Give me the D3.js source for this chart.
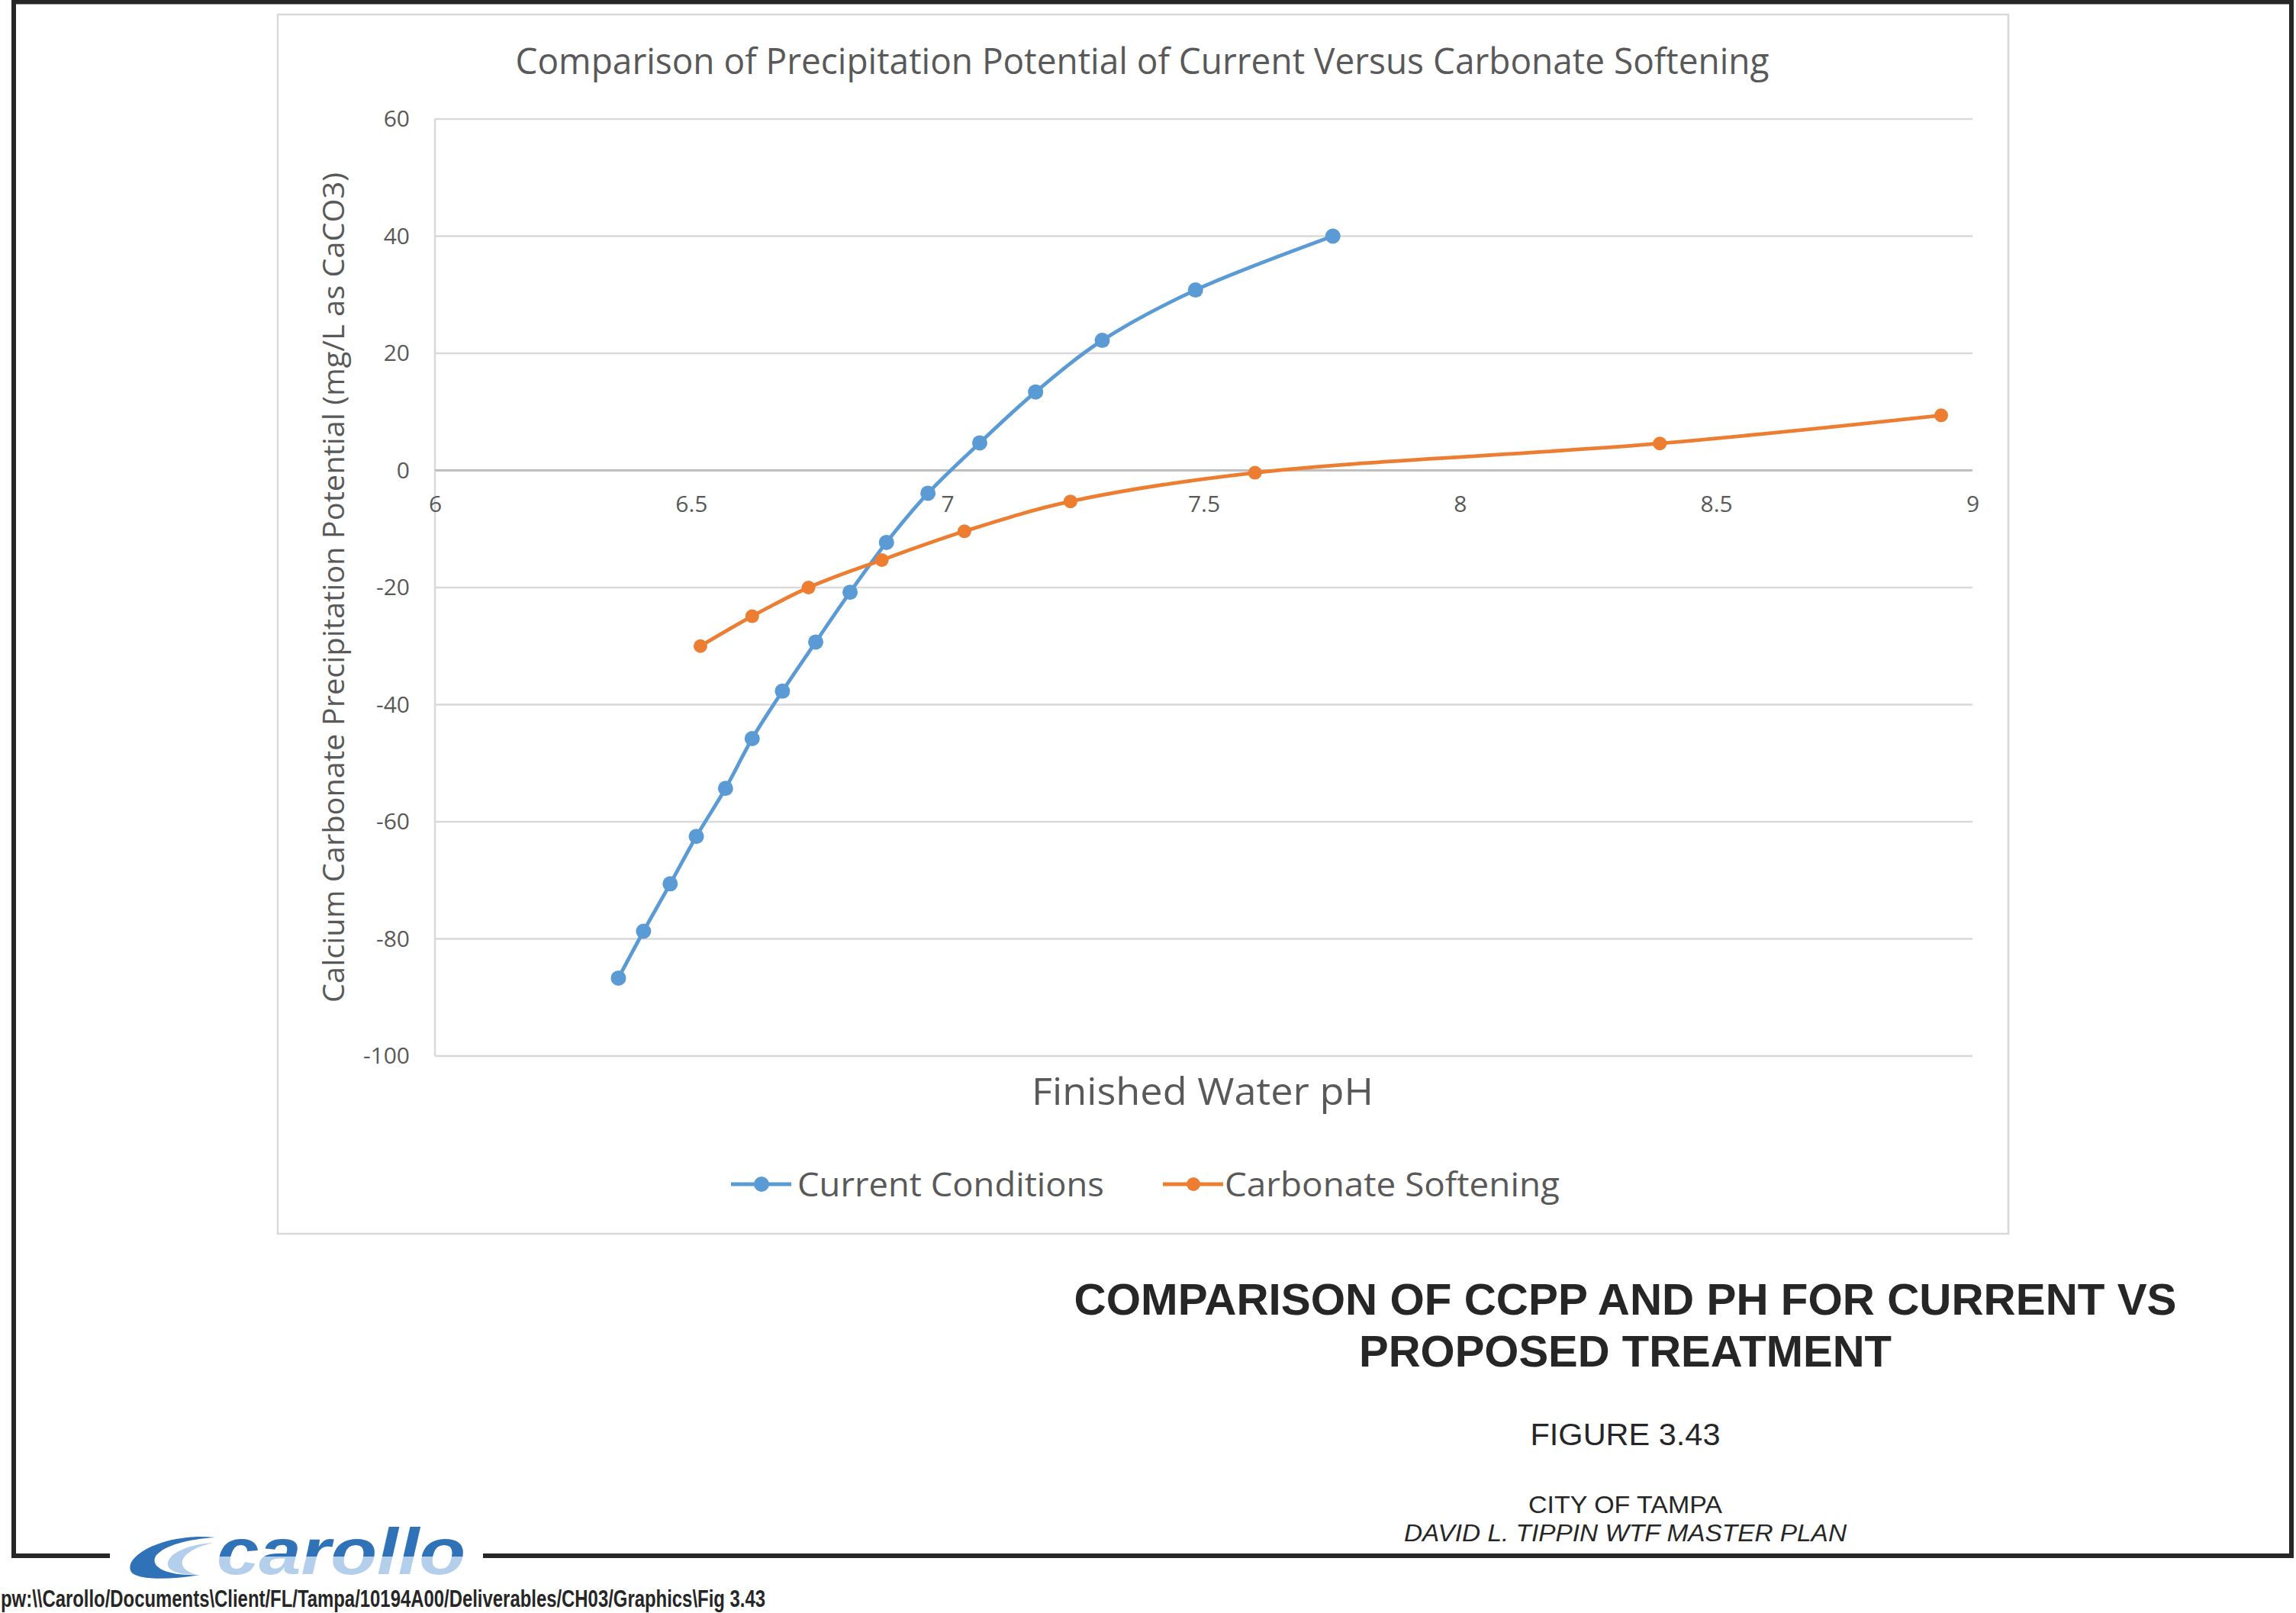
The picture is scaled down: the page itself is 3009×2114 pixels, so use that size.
<!DOCTYPE html>
<html>
<head>
<meta charset="utf-8">
<script src="https://cdn.jsdelivr.net/npm/d3@7"></script>
<style>
  html, body { margin: 0; padding: 0; background: #fff; }
  svg { display: block; }
</style>
</head>
<body>
<div id="chart"></div>
<script>
// data
const currentPH   = [6.358, 6.407, 6.459, 6.510, 6.567, 6.619, 6.678, 6.743, 6.810, 6.881, 6.962, 7.063, 7.172, 7.302, 7.484, 7.752];
const currentCCPP = [-86.7, -78.7, -70.6, -62.5, -54.3, -45.8, -37.7, -29.3, -20.8, -12.3, -3.9, 4.7, 13.4, 22.2, 30.8, 40.0];
const softPH   = [6.518, 6.619, 6.729, 6.872, 7.033, 7.240, 7.600, 8.390, 8.939];
const softCCPP = [-30.0, -24.9, -20.0, -15.3, -10.4, -5.3, -0.4, 4.6, 9.4];

const xTicks = [6, 6.5, 7, 7.5, 8, 8.5, 9];
const yTicks = [-100, -80, -60, -40, -20, 0, 20, 40, 60];
const seriesNames = ["Current Conditions", "Carbonate Softening"];

const W = 3009, H = 2114;
const blue = "#5B9BD5", orange = "#ED7D31", txt = "#595959";
const chartFont = "'Open Sans', 'Noto Sans', sans-serif";
const sheetFont = "'Liberation Sans Narrow', 'Arial Narrow', 'Liberation Sans', Arial, sans-serif";

const svg = d3.select("#chart").append("svg")
  .attr("width", W).attr("height", H);

svg.append("rect").attr("width", W).attr("height", H).attr("fill", "#fff");

// sheet frame
const frame = svg.append("g").attr("stroke", "#262626").attr("stroke-width", 6).attr("fill", "none");
frame.append("line").attr("x1", 15).attr("y1", 2.5).attr("x2", 3006).attr("y2", 2.5);
frame.append("line").attr("x1", 18).attr("y1", 0).attr("x2", 18).attr("y2", 2042);
frame.append("line").attr("x1", 3003).attr("y1", 0).attr("x2", 3003).attr("y2", 2042);
frame.append("line").attr("x1", 15).attr("y1", 2039).attr("x2", 144).attr("y2", 2039);
frame.append("line").attr("x1", 633).attr("y1", 2039).attr("x2", 3006).attr("y2", 2039);

// excel chart area
svg.append("rect")
  .attr("x", 364).attr("y", 19).attr("width", 2268).attr("height", 1598)
  .attr("fill", "#fff").attr("stroke", "#D9D9D9").attr("stroke-width", 2.5);

const x = d3.scaleLinear().domain([6, 9]).range([570, 2585]);
const y = d3.scaleLinear().domain([-100, 60]).range([1384, 156]);

// gridlines
svg.append("g").selectAll("line")
  .data(yTicks.filter(d => d !== 0))
  .join("line")
  .attr("x1", x(6)).attr("x2", x(9))
  .attr("y1", d => y(d)).attr("y2", d => y(d))
  .attr("stroke", "#D9D9D9").attr("stroke-width", 2.5);

svg.append("line")
  .attr("x1", x(6)).attr("x2", x(6)).attr("y1", y(60)).attr("y2", y(-100))
  .attr("stroke", "#D9D9D9").attr("stroke-width", 2.5);

svg.append("line")
  .attr("x1", x(6)).attr("x2", x(9)).attr("y1", y(0)).attr("y2", y(0))
  .attr("stroke", "#BFBFBF").attr("stroke-width", 3);

// axes (plain hyphen for negatives, like Excel)
const yAxis = svg.append("g")
  .attr("transform", `translate(${x(6)},0)`)
  .call(d3.axisLeft(y).tickValues(yTicks).tickSize(0).tickPadding(33).tickFormat(d => String(d)));
const xAxis = svg.append("g")
  .attr("transform", `translate(0,${y(0)})`)
  .call(d3.axisBottom(x).tickValues(xTicks).tickSize(0).tickPadding(33).tickFormat(d => String(d)));
[yAxis, xAxis].forEach(g => {
  g.select(".domain").remove();
  g.selectAll("text").attr("font-family", chartFont).attr("font-size", 30).attr("fill", txt);
});

// series
const line = d3.line()
  .x(d => x(d[0])).y(d => y(d[1]))
  .curve(d3.curveCatmullRom.alpha(0.5));

const series = [
  { name: seriesNames[0], color: blue, r: 10, pts: d3.zip(currentPH, currentCCPP) },
  { name: seriesNames[1], color: orange, r: 9, pts: d3.zip(softPH, softCCPP) }
];

series.forEach(s => {
  svg.append("path").datum(s.pts)
    .attr("d", line).attr("fill", "none")
    .attr("stroke", s.color).attr("stroke-width", 4.8).attr("stroke-linejoin", "round");
  svg.append("g").selectAll("circle").data(s.pts).join("circle")
    .attr("cx", d => x(d[0])).attr("cy", d => y(d[1])).attr("r", s.r)
    .attr("fill", s.color);
});

// titles
svg.append("text")
  .attr("x", 1497).attr("y", 97).attr("text-anchor", "middle")
  .attr("font-family", chartFont).attr("font-size", 48).attr("fill", txt)
  .attr("textLength", 1643).attr("lengthAdjust", "spacingAndGlyphs")
  .text("Comparison of Precipitation Potential of Current Versus Carbonate Softening");

svg.append("text")
  .attr("transform", "translate(451,770) rotate(-90)").attr("text-anchor", "middle")
  .attr("font-family", chartFont).attr("font-size", 38).attr("fill", txt)
  .attr("textLength", 1088).attr("lengthAdjust", "spacingAndGlyphs")
  .text("Calcium Carbonate Precipitation Potential (mg/L as CaCO3)");

svg.append("text")
  .attr("x", 1576).attr("y", 1448).attr("text-anchor", "middle")
  .attr("font-family", chartFont).attr("font-size", 50).attr("fill", txt)
  .attr("textLength", 448).attr("lengthAdjust", "spacingAndGlyphs")
  .text("Finished Water pH");

// legend
const legendItems = [
  { s: series[0], x0: 958, tx: 1045, tw: 402 },
  { s: series[1], x0: 1524, tx: 1605, tw: 439 }
];
const legend = svg.append("g");
legendItems.forEach(d => {
  const ly = 1552;
  legend.append("line").attr("x1", d.x0).attr("x2", d.x0 + 79).attr("y1", ly).attr("y2", ly)
    .attr("stroke", d.s.color).attr("stroke-width", 4.8);
  legend.append("circle").attr("cx", d.x0 + 40).attr("cy", ly).attr("r", d.s.r).attr("fill", d.s.color);
  legend.append("text").attr("x", d.tx).attr("y", 1568)
    .attr("font-family", chartFont).attr("font-size", 43).attr("fill", txt)
    .attr("textLength", d.tw).attr("lengthAdjust", "spacingAndGlyphs")
    .text(d.s.name);
});

// title block
const block = [
  { t: "COMPARISON OF CCPP AND PH FOR CURRENT VS", y: 1723, size: 57, w: 1445, weight: "bold" },
  { t: "PROPOSED TREATMENT", y: 1791, size: 57, w: 698, weight: "bold" },
  { t: "FIGURE 3.43", y: 1894, size: 40, w: 249 },
  { t: "CITY OF TAMPA", y: 1983, size: 32, w: 254 },
  { t: "DAVID L. TIPPIN WTF MASTER PLAN", y: 2020, size: 31, w: 580, style: "italic" }
];
svg.append("g").selectAll("text").data(block).join("text")
  .attr("x", 2130).attr("y", d => d.y).attr("text-anchor", "middle")
  .attr("font-family", sheetFont).attr("font-size", d => d.size)
  .attr("font-weight", d => d.weight || "normal").attr("font-style", d => d.style || "normal")
  .attr("fill", "#262626")
  .attr("textLength", d => d.w).attr("lengthAdjust", "spacingAndGlyphs")
  .text(d => d.t);

svg.append("text")
  .attr("x", 1).attr("y", 2106)
  .attr("font-family", sheetFont).attr("font-size", 31).attr("font-weight", "bold")
  .attr("fill", "#262626")
  .attr("textLength", 1002).attr("lengthAdjust", "spacingAndGlyphs")
  .text("pw:\\\\Carollo/Documents\\Client/FL/Tampa/10194A00/Deliverables/CH03/Graphics\\Fig 3.43");

// logo
const defs = svg.append("defs");
const grad = defs.append("linearGradient").attr("id", "logoGrad")
  .attr("gradientUnits", "userSpaceOnUse")
  .attr("x1", 0).attr("y1", 1998).attr("x2", 0).attr("y2", 2066);
grad.append("stop").attr("offset", 0.62).attr("stop-color", "#2F72B8");
grad.append("stop").attr("offset", 0.62).attr("stop-color", "#B4CFEB");

const logo = svg.append("g");
logo.append("path")
  .attr("d", "M282,2015 C215,2008 160,2040 172,2060 C180,2072 230,2070 262,2064 C215,2066 195,2052 205,2038 C218,2024 250,2017 282,2015 Z")
  .attr("fill", "#2F72B8");
logo.append("path")
  .attr("d", "M280,2022 C245,2024 222,2036 220,2048 C218,2058 232,2064 258,2064 C236,2058 234,2046 246,2036 C255,2029 266,2025 280,2022 Z")
  .attr("fill", "#B4CFEB");
logo.append("text")
  .attr("x", 284).attr("y", 2063)
  .attr("font-family", "'Liberation Sans', Arial, sans-serif")
  .attr("font-size", 86).attr("font-weight", "bold").attr("font-style", "italic")
  .attr("fill", "url(#logoGrad)")
  .attr("textLength", 326).attr("lengthAdjust", "spacingAndGlyphs")
  .text("carollo");
</script>
</body>
</html>
